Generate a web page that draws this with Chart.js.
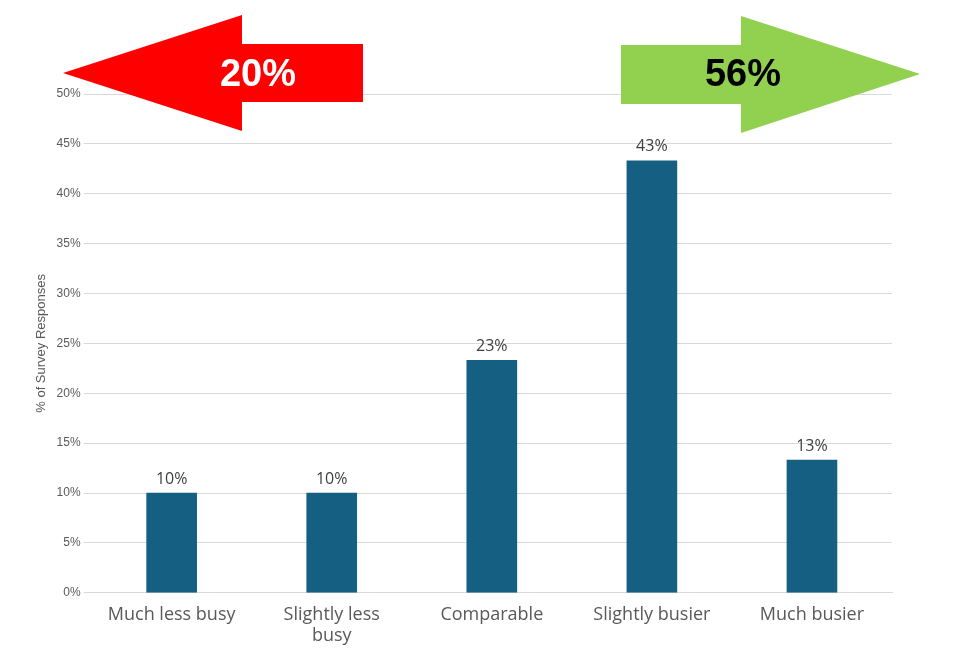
<!DOCTYPE html>
<html>
<head>
<meta charset="utf-8">
<script src="https://cdn.jsdelivr.net/npm/chart.js@4"></script>
<style>
  body { margin: 0; background: #fff; }
  #wrap { width: 967px; height: 654px; }
</style>
</head>
<body>
<div id="wrap"><canvas id="myChart"></canvas></div>
<script>
var categories = ['Much less busy', ['Slightly less', 'busy'], 'Comparable', 'Slightly busier', 'Much busier']
var responses = [10, 10, 23.3, 43.3, 13.3]
var lessBusyTotal = '20%'
var busierTotal = '56%'

// arrows above the chart
var arrowPlugin = {
    id: 'arrows',
    afterDraw: function (chart) {
        var ctx = chart.ctx
        ctx.save()
        ctx.fillStyle = '#ff0000'
        ctx.beginPath()
        ctx.moveTo(63, 73)
        ctx.lineTo(242, 15)
        ctx.lineTo(242, 44)
        ctx.lineTo(363, 44)
        ctx.lineTo(363, 102)
        ctx.lineTo(242, 102)
        ctx.lineTo(242, 131)
        ctx.closePath()
        ctx.fill()
        ctx.fillStyle = '#92d050'
        ctx.beginPath()
        ctx.moveTo(920, 74)
        ctx.lineTo(741, 16)
        ctx.lineTo(741, 45)
        ctx.lineTo(621, 45)
        ctx.lineTo(621, 104)
        ctx.lineTo(741, 104)
        ctx.lineTo(741, 133)
        ctx.closePath()
        ctx.fill()
        ctx.font = 'bold 38px "Liberation Sans", Arial, sans-serif'
        ctx.textAlign = 'center'
        ctx.textBaseline = 'middle'
        ctx.fillStyle = '#ffffff'
        ctx.fillText(lessBusyTotal, 258, 76)
        ctx.fillStyle = '#000000'
        ctx.fillText(busierTotal, 743, 76)
        ctx.restore()
    }
}

var labelPlugin = {
    id: 'barLabels',
    afterDatasetsDraw: function (chart) {
        var ctx = chart.ctx
        ctx.save()
        ctx.font = '16px "Open Sans", sans-serif'
        ctx.fillStyle = '#404040'
        ctx.textAlign = 'center'
        ctx.textBaseline = 'bottom'
        chart.getDatasetMeta(0).data.forEach(function (bar, i) {
            ctx.fillText(Math.round(responses[i]) + '%', bar.x, bar.y - 6)
        })
        ctx.restore()
    }
}

new Chart(document.getElementById('myChart'), {
    type: 'bar',
    data: {
        labels: categories,
        datasets: [{
            data: responses,
            backgroundColor: '#156082',
            barThickness: 50
        }]
    },
    options: {
        responsive: true,
        maintainAspectRatio: false,
        animation: false,
        layout: { padding: { top: 94, right: 75, left: 30, bottom: 4 } },
        plugins: { legend: { display: false }, tooltip: { enabled: false } },
        scales: {
            x: {
                grid: { display: false },
                border: { color: '#d9d9d9' },
                ticks: { color: '#595959', font: { size: 18, family: 'Open Sans' }, maxRotation: 0 }
            },
            y: {
                min: 0,
                max: 50,
                ticks: {
                    stepSize: 5,
                    color: '#595959',
                    font: { size: 12, family: 'Liberation Sans' },
                    callback: function (v) { return v + '%' }
                },
                grid: { color: '#d9d9d9' },
                border: { display: false },
                title: {
                    display: true,
                    text: '% of Survey Responses',
                    color: '#595959',
                    font: { size: 13, family: 'Liberation Sans' }
                }
            }
        }
    },
    plugins: [arrowPlugin, labelPlugin]
})
</script>
</body>
</html>
